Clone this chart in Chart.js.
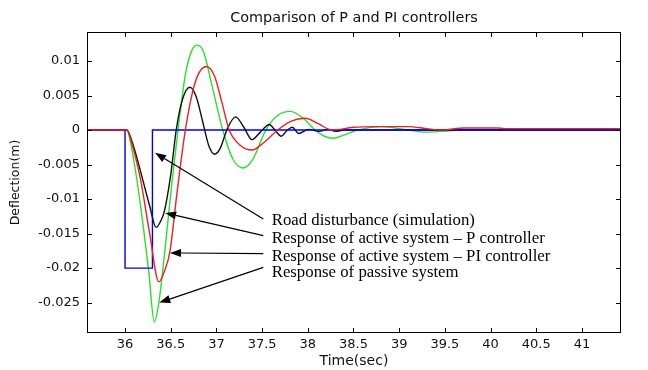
<!DOCTYPE html>
<html>
<head>
<meta charset="utf-8">
<script src="https://cdn.jsdelivr.net/npm/chart.js@4/dist/chart.umd.min.js"></script>
<style>
  html, body { margin: 0; padding: 0; background: #fff; }
</style>
</head>
<body>
<canvas id="graphs" width="648" height="370"></canvas>
<script>
// values (time in s, deflection in m)
const timeRoad = [35.5, 36.0, 36.0, 36.3, 36.3, 41.5];
const road = [0, 0, -0.02, -0.02, 0, 0];

const timeP = [35.5, 36.02, 36.08, 36.14, 36.20, 36.27, 36.34, 36.39, 36.43, 36.50,
  36.56, 36.63, 36.71, 36.78, 36.85, 36.92, 36.98, 37.04, 37.12, 37.21,
  37.30, 37.39, 37.48, 37.58, 37.64, 37.71, 37.77, 37.83, 37.90, 38.01,
  38.12, 38.23, 38.30, 38.40, 41.5];
const activeP = [0, 0, -0.0018, -0.0045, -0.0075, -0.0110, -0.0141, -0.0132, -0.0118, -0.0065,
  0, 0.0045, 0.0062, 0.0048, 0.0012, -0.0024, -0.0035, -0.0027, 0.0002, 0.0019,
  0.0004, -0.0014, -0.0003, 0.0008, 0, -0.0009, -0.0001, 0.0004, -0.0005, 0.0001,
  -0.0002, 0.0001, -0.0002, 0, 0];

const timePI = [35.5, 36.02, 36.08, 36.17, 36.27, 36.37, 36.43, 36.49, 36.57, 36.66,
  36.77, 36.89, 36.98, 37.06, 37.14, 37.26, 37.39, 37.52, 37.67, 37.82,
  37.97, 38.12, 38.26, 38.50, 38.74, 39.10, 39.30, 39.46, 39.71, 40.08,
  40.15, 41.5];
const activePI = [0, 0, -0.0022, -0.0072, -0.0150, -0.0220, -0.0205, -0.0177, -0.0090, 0,
  0.0070, 0.0092, 0.0078, 0.0040, 0, -0.0022, -0.0029, -0.0018, 0, 0.0013,
  0.0017, 0.0009, 0, 0.0004, 0.0005, 0.0005, 0.0002, 0, 0.0003, 0.0003,
  0.0002, 0.0002];

const timePassive = [35.5, 36.02, 36.07, 36.13, 36.20, 36.26, 36.32, 36.37, 36.44, 36.51,
  36.58, 36.66, 36.73, 36.79, 36.86, 36.95, 37.07, 37.18, 37.29, 37.40,
  37.54, 37.67, 37.81, 37.95, 38.08, 38.18, 38.28, 38.40, 38.55, 38.81,
  39.10, 39.28, 39.46, 39.70, 41.5];
const passive = [0, 0, -0.0025, -0.0072, -0.0140, -0.0205, -0.0278, -0.0250, -0.0170, -0.0080,
  0, 0.0080, 0.0115, 0.0123, 0.0113, 0.0065, 0, -0.0042, -0.0055, -0.0042,
  0, 0.0021, 0.0027, 0.0017, 0, -0.0009, -0.0012, -0.0007, 0, 0.0005,
  0, -0.0003, -0.0002, 0, 0];

const xTicks = [36, 36.5, 37, 37.5, 38, 38.5, 39, 39.5, 40, 40.5, 41];
const yTicks = [-0.025, -0.02, -0.015, -0.01, -0.005, 0, 0.005, 0.01];

const chartTitle = 'Comparison of P and PI controllers';

// annotation arrows (data units)
const noteText = [
  'Road disturbance (simulation)',
  'Response of active system \u2013 P controller',
  'Response of active system \u2013 PI controller',
  'Response of passive system'
];
const noteTipX = [36.328, 36.438, 36.492, 36.375];
const noteTipY = [-0.0033, -0.0120, -0.0178, -0.0250];
const noteTailX = 37.513;
const noteTailY = [-0.0129, -0.0153, -0.0179, -0.0199];
const noteTextX = 37.605;
const noteTextY = [-0.0131, -0.0157, -0.0183, -0.0207];

const pts = (ts, vs) => ts.map((t, i) => ({x: t, y: vs[i]}));

// box, inward ticks and title centred over the plot (MATLAB style)
const frame = {
  id: 'frame',
  afterDatasetsDraw(chart) {
    const {ctx, chartArea: a, scales: {x, y}} = chart;
    ctx.save();
    ctx.strokeStyle = '#000';
    ctx.lineWidth = 1;
    ctx.strokeRect(a.left + 0.5, a.top + 0.5, a.right - a.left - 1, a.bottom - a.top - 1);
    ctx.beginPath();
    xTicks.forEach(v => {
      const p = Math.round(x.getPixelForValue(v)) + 0.5;
      ctx.moveTo(p, a.bottom); ctx.lineTo(p, a.bottom - 5);
      ctx.moveTo(p, a.top); ctx.lineTo(p, a.top + 5);
    });
    yTicks.forEach(v => {
      const p = Math.round(y.getPixelForValue(v)) + 0.5;
      ctx.moveTo(a.left, p); ctx.lineTo(a.left + 5, p);
      ctx.moveTo(a.right, p); ctx.lineTo(a.right - 5, p);
    });
    ctx.stroke();
    ctx.fillStyle = '#111';
    ctx.font = '14.4px "DejaVu Sans"';
    ctx.textAlign = 'center';
    ctx.textBaseline = 'middle';
    ctx.fillText(chartTitle, (a.left + a.right) / 2, 18);
    ctx.restore();
  }
};

const notes = {
  id: 'notes',
  afterDatasetsDraw(chart) {
    const {ctx, scales: {x, y}} = chart;
    ctx.save();
    ctx.strokeStyle = '#000';
    ctx.fillStyle = '#000';
    ctx.lineWidth = 1.2;
    ctx.font = '16.8px "Liberation Serif"';
    ctx.textBaseline = 'middle';
    noteText.forEach((txt, i) => {
      const x0 = x.getPixelForValue(noteTailX), y0 = y.getPixelForValue(noteTailY[i]);
      const x1 = x.getPixelForValue(noteTipX[i]), y1 = y.getPixelForValue(noteTipY[i]);
      const ang = Math.atan2(y1 - y0, x1 - x0);
      const head = 11, half = 4;
      const bx = x1 - head * Math.cos(ang), by = y1 - head * Math.sin(ang);
      ctx.beginPath();
      ctx.moveTo(x0, y0);
      ctx.lineTo(bx, by);
      ctx.stroke();
      ctx.beginPath();
      ctx.moveTo(x1, y1);
      ctx.lineTo(bx + half * Math.sin(ang), by - half * Math.cos(ang));
      ctx.lineTo(bx - half * Math.sin(ang), by + half * Math.cos(ang));
      ctx.closePath();
      ctx.fill();
      ctx.fillText(txt, x.getPixelForValue(noteTextX), y.getPixelForValue(noteTextY[i]));
    });
    ctx.restore();
  }
};

const curve = (label, data, color) => ({
  label: label,
  data: data,
  borderColor: color,
  borderWidth: 1.4,
  pointRadius: 0,
  fill: false,
  cubicInterpolationMode: 'monotone'
});

let config = {
  type: 'line',
  data: {
    datasets: [
      curve('Active system - PI controller', pts(timePI, activePI), '#ee2020'),
      {
        label: 'Road disturbance',
        data: pts(timeRoad, road),
        borderColor: '#0000ee',
        borderWidth: 1.4,
        pointRadius: 0,
        fill: false,
        tension: 0
      },
      curve('Active system - P controller', pts(timeP, activeP), '#111111'),
      curve('Passive system', pts(timePassive, passive), '#2ae02a')
    ]
  },
  options: {
    responsive: false,
    animation: false,
    devicePixelRatio: 1,
    layout: { padding: { left: 0, right: 27, top: 32, bottom: 0 } },
    plugins: {
      legend: { display: false },
      tooltip: { enabled: false },
      title: { display: false }
    },
    scales: {
      x: {
        type: 'linear',
        min: 35.584,
        max: 41.427,
        grid: { display: false, drawTicks: false },
        border: { display: false },
        afterBuildTicks: s => { s.ticks = xTicks.map(v => ({value: v})); },
        afterFit: s => { s.height = 37; },
        ticks: {
          padding: 4,
          maxRotation: 0,
          autoSkip: false,
          color: '#111',
          font: { family: 'DejaVu Sans', size: 13 },
          callback: v => String(v)
        },
        title: {
          display: true,
          text: 'Time(sec)',
          color: '#111',
          font: { family: 'DejaVu Sans', size: 14 },
          padding: { top: 0, bottom: 0 }
        }
      },
      y: {
        type: 'linear',
        min: -0.0294,
        max: 0.0142,
        grid: { display: false, drawTicks: false },
        border: { display: false },
        afterBuildTicks: s => { s.ticks = yTicks.map(v => ({value: v})); },
        afterFit: s => { s.width = 87; },
        ticks: {
          padding: 7,
          color: '#111',
          font: { family: 'DejaVu Sans', size: 13 },
          callback: v => String(v)
        },
        title: {
          display: true,
          text: 'Deflection(m)',
          color: '#111',
          font: { family: 'DejaVu Sans', size: 12.5 },
          padding: { top: 8, bottom: 0 }
        }
      }
    }
  },
  plugins: [frame, notes]
};

window.onload = function() {
  let ctx = document.querySelector('#graphs').getContext('2d');
  window.myChart = new Chart(ctx, config);
};
</script>
</body>
</html>
